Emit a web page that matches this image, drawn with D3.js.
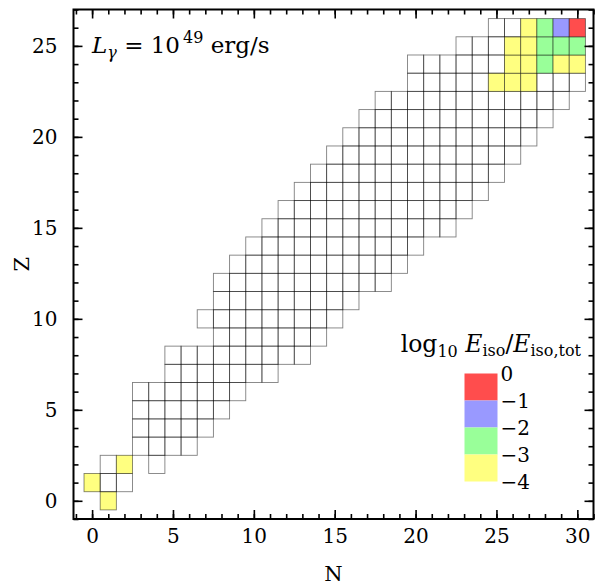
<!DOCTYPE html>
<html><head><meta charset="utf-8">
<script src="https://cdn.jsdelivr.net/npm/d3@7"></script>
<style>body{margin:0;background:#fff}svg{display:block}</style>
</head><body>
<svg id="c" width="595" height="586"></svg>
<script>
// ---- data ----
const nColumns = [0,1,2,3,4,5,6,7,8,9,10,11,12,13,14,15,16,17,18,19,20,21,22,23,24,25,26,27,28,29,30];
const zLowest  = [1,0,1,3,2,3,3,4,5,6,7,7,8,8,9,10,11,12,12,13,14,15,15,16,17,18,19,20,21,22,23];
const zHighest = [1,2,2,6,6,8,8,10,12,13,14,15,16,17,18,19,20,21,22,22,24,24,24,25,25,26,26,26,26,26,26];
const missingN = [7];
const missingZ = [9];
// nuclei carrying energy: N, Z, log10 Eiso/Eiso,tot (estimated bins)
const hotN   = [30,29,28,27,28,29,30,26,27,28,26,27,29,30,25,26,27,0,1,2];
const hotZ   = [26,26,26,26,25,25,25,25,25,24,24,24,24,24,23,23,23,1,0,2];
const hotLog = [-0.5,-1.5,-2.5,-3.5,-2.5,-2.5,-2.5,-3.5,-3.5,-2.5,-3.5,-3.5,-3.5,-3.5,-3.5,-3.5,-3.5,-3.5,-3.5,-3.5];
const legendLevels = [0,-1,-2,-3,-4];
const legendColors = ["#ff4d4d","#9999ff","#99ff99","#ffff80"];
const xTicks = [0,5,10,15,20,25,30];
const yTicks = [0,5,10,15,20,25];

// ---- layout ----
const svg = d3.select("#c");
const L = 73.5, R = 593.5, T = 9.5, B = 519;
const x = d3.scaleLinear().domain([-1.15, 31]).range([L, R]);
const y = d3.scaleLinear().domain([-1, 27]).range([B, T]);
const color = d3.scaleThreshold().domain([-3,-2,-1]).range(legendColors.slice().reverse());
const FONT = "DejaVu Serif";

// cells
const cells = [];
nColumns.forEach((n,i)=>{
  for(let z=zLowest[i]; z<=zHighest[i]; z++){
    if(missingN.some((m,k)=>m===n && missingZ[k]===z)) continue;
    const h = hotN.findIndex((hn,k)=>hn===n && hotZ[k]===z);
    cells.push({n, z, fill: h>=0 ? color(hotLog[h]) : "none"});
  }
});
const w = Math.abs(x(1)-x(0)), h = Math.abs(y(0)-y(1));
svg.append("g").selectAll("rect").data(cells).join("rect")
  .attr("x", d=>x(d.n-0.5)).attr("y", d=>y(d.z+0.5))
  .attr("width", w).attr("height", h)
  .attr("fill", d=>d.fill)
  .attr("stroke", "#000").attr("stroke-opacity", 0.5).attr("stroke-width", 0.9);

// axes (ticks inward)
function minor(lo,hi){const a=[];for(let v=lo;v<=hi;v++)a.push(v);return a;}
const gx = svg.append("g").attr("transform",`translate(0,${B})`)
  .call(d3.axisBottom(x).tickValues(minor(-1,31)).tickSize(-5).tickFormat(""));
const gx2 = svg.append("g").attr("transform",`translate(0,${B})`)
  .call(d3.axisBottom(x).tickValues(xTicks).tickSize(-9).tickPadding(20).tickFormat(d3.format("d")));
const gt = svg.append("g").attr("transform",`translate(0,${T})`)
  .call(d3.axisTop(x).tickValues(minor(-1,31)).tickSize(-5).tickFormat(""));
const gt2 = svg.append("g").attr("transform",`translate(0,${T})`)
  .call(d3.axisTop(x).tickValues(xTicks).tickSize(-9).tickFormat(""));
const gy = svg.append("g").attr("transform",`translate(${L},0)`)
  .call(d3.axisLeft(y).tickValues(minor(-1,27)).tickSize(-5).tickFormat(""));
const gy2 = svg.append("g").attr("transform",`translate(${L},0)`)
  .call(d3.axisLeft(y).tickValues(yTicks).tickSize(-9).tickPadding(16).tickFormat(d3.format("d")));
const gr = svg.append("g").attr("transform",`translate(${R},0)`)
  .call(d3.axisRight(y).tickValues(minor(-1,27)).tickSize(-5).tickFormat(""));
const gr2 = svg.append("g").attr("transform",`translate(${R},0)`)
  .call(d3.axisRight(y).tickValues(yTicks).tickSize(-9).tickFormat(""));
svg.selectAll(".domain").remove();
svg.selectAll(".tick line").attr("stroke","#000").attr("stroke-width",1.6);
svg.selectAll(".tick text").attr("font-family",FONT).attr("font-size",20).attr("fill","#000");
gx2.selectAll(".tick text").attr("dy","0.2em");
svg.append("rect").attr("x",L).attr("y",T).attr("width",R-L).attr("height",B-T)
  .attr("fill","none").attr("stroke","#000").attr("stroke-width",2);

// axis labels
svg.append("text").attr("x",(L+R)/2).attr("y",581).attr("text-anchor","middle")
  .attr("font-family",FONT).attr("font-size",21).text("N");
svg.append("text").attr("transform",`translate(29,${(T+B)/2}) rotate(-90)`).attr("text-anchor","middle")
  .attr("font-family",FONT).attr("font-size",21).text("Z");

// luminosity label
const t1 = svg.append("text").attr("x",92).attr("y",53).attr("font-family",FONT).attr("font-size",23);
t1.append("tspan").attr("font-style","italic").text("L");
t1.append("tspan").attr("font-style","italic").attr("font-size",16).attr("dy",5).text("γ");
t1.append("tspan").attr("dy",-5).text(" = 10");
t1.append("tspan").attr("font-size",16).attr("dy",-10).attr("dx",3).text("49");
t1.append("tspan").attr("dy",10).text(" erg/s");

// legend
const ly = d3.scaleLinear().domain([0,-4]).range([373.5,481.5]);
const lx = 464.5, lw = 33;
svg.append("g").selectAll("rect").data(legendColors).join("rect")
  .attr("x",lx).attr("y",(d,i)=>ly(legendLevels[i])).attr("width",lw)
  .attr("height",(d,i)=>ly(legendLevels[i+1])-ly(legendLevels[i])).attr("fill",d=>d);
svg.append("g").selectAll("text").data(legendLevels).join("text")
  .attr("x",lx+lw+3).attr("y",d=>ly(d)).attr("dy","0.35em")
  .attr("font-family",FONT).attr("font-size",20)
  .text(d=>d===0?"0":"\u2212"+Math.abs(d));
const t2 = svg.append("text").attr("x",581).attr("y",352).attr("text-anchor","end")
  .attr("font-family",FONT).attr("font-size",23.5);
t2.append("tspan").text("log");
t2.append("tspan").attr("font-size",16).attr("dy",5).text("10");
t2.append("tspan").attr("dy",-5).text(" ");
t2.append("tspan").attr("font-style","italic").text("E");
t2.append("tspan").attr("font-size",16).attr("dy",4).text("iso");
t2.append("tspan").attr("dy",-4).text("/");
t2.append("tspan").attr("font-style","italic").text("E");
t2.append("tspan").attr("font-size",16).attr("dy",4).text("iso,tot");
</script>
</body></html>
